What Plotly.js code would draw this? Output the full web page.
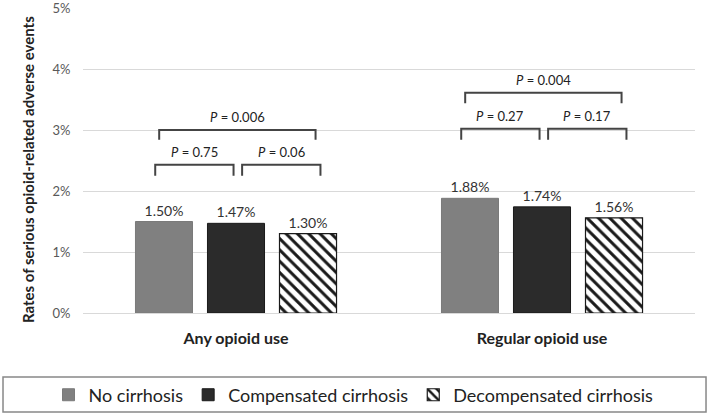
<!DOCTYPE html>
<html>
<head>
<meta charset="utf-8">
<script src="https://cdn.plot.ly/plotly-3.0.1.min.js"></script>
<style>html,body{margin:0;padding:0;background:#fff;}#chart{width:709px;height:416px;}</style>
</head>
<body>
<div id="chart"></div>
<script>
const categories = ["Any opioid use", "Regular opioid use"];
const seriesNames = ["No cirrhosis", "Compensated cirrhosis", "Decompensated cirrhosis"];
const noCirrhosis = [1.50, 1.88];
const compensated = [1.47, 1.74];
const decompensated = [1.30, 1.56];
const yTicks = [0, 1, 2, 3, 4, 5];
const yTickLabels = ["0%", "1%", "2%", "3%", "4%", "5%"];
// p-value comparisons: [category index, from series, to series, label]
const pComparisons = [
  [0, 0, 1, "0.75"], [0, 1, 2, "0.06"], [0, 0, 2, "0.006"],
  [1, 0, 1, "0.27"], [1, 1, 2, "0.17"], [1, 0, 2, "0.004"]
];

const FONT = "Lato, 'Open Sans', sans-serif";
const fmt = v => v.toFixed(2) + "%";

const traces = [
  {name: seriesNames[0], values: noCirrhosis, marker: {color: "#808080", line: {color: "#7a7a7a", width: 1}}},
  {name: seriesNames[1], values: compensated, marker: {color: "#2b2b2b", line: {color: "#1a1a1a", width: 1}}},
  {name: seriesNames[2], values: decompensated, marker: {color: "#ffffff", line: {color: "#1a1a1a", width: 1.2},
     pattern: {shape: "\\", fgcolor: "#1a1a1a", bgcolor: "#ffffff", size: 8, solidity: 0.38}}}
].map(t => ({
  type: "bar", name: t.name, x: categories, y: t.values,
  text: t.values.map(fmt), textposition: "outside", cliponaxis: false,
  textfont: {family: FONT, size: 14, color: "#333"},
  marker: t.marker, hoverinfo: "skip"
}));

// bracket geometry (layout only)
const slot = 0.235;
const pad = {small0: [-0.029, -0.008], small1: [0.02, 0.041], big: [-0.016, 0.025]};
const levels = {
  0: {small: [2.25, 2.43], big: [2.84, 3.0]},
  1: {small: [2.84, 3.02], big: [3.44, 3.61]}
};
const shapes = [];
const annotations = [];
pComparisons.forEach(([ci, a, b, label]) => {
  const isBig = (b - a) === 2;
  const lv = isBig ? levels[ci].big : levels[ci].small;
  const pd = isBig ? pad.big : (a === 0 ? pad.small0 : pad.small1);
  const x0 = ci + (a - 1) * slot + pd[0];
  const x1 = ci + (b - 1) * slot + pd[1];
  shapes.push({type: "path", xref: "x", yref: "y",
    path: `M ${x0} ${lv[0]} L ${x0} ${lv[1]} L ${x1} ${lv[1]} L ${x1} ${lv[0]}`,
    line: {color: "#444", width: 2}});
  annotations.push({xref: "x", yref: "y", x: (x0 + x1) / 2, y: lv[1] + 0.05, yanchor: "bottom",
    text: "<i>P</i> = " + label, showarrow: false, font: {family: FONT, size: 13, color: "#222"}});
});
// y axis title
annotations.push({xref: "paper", yref: "paper", x: -0.09, y: 0.472, xanchor: "center", yanchor: "middle",
  textangle: -90, showarrow: false, text: "<b>Rates of serious opioid-related adverse events</b>",
  font: {family: FONT, size: 15, color: "#222"}});
// legend border box
shapes.push({type: "rect", xref: "paper", yref: "paper", x0: -0.1307, x1: 1.018, y0: -0.21, y1: -0.3246,
  line: {color: "#888", width: 1.5}, fillcolor: "rgba(0,0,0,0)"});

const layout = {
  width: 709, height: 416,
  margin: {l: 83, r: 14, t: 8, b: 103, autoexpand: false},
  paper_bgcolor: "#fff", plot_bgcolor: "#fff",
  font: {family: FONT, color: "#333"},
  barmode: "group", bargap: 0.294, bargroupgap: 0.208,
  showlegend: true,
  legend: {orientation: "h", x: 0.442, xanchor: "center", y: -0.269, yanchor: "middle",
    font: {family: FONT, size: 18, color: "#222"}, itemclick: false, traceorder: "normal",
    bgcolor: "rgba(0,0,0,0)"},
  xaxis: {type: "category", tickfont: {family: FONT, size: 16, color: "#222", weight: "bold"},
    showline: false, ticks: "outside", ticklen: 11, tickcolor: "rgba(0,0,0,0)", showgrid: false},
  yaxis: {range: [0, 5], tickvals: yTicks, ticktext: yTickLabels,
    tickfont: {family: FONT, size: 13, color: "#595959"}, ticklabeloverflow: "allow",
    gridcolor: "#d9d9d9", gridwidth: 1, zeroline: true, zerolinecolor: "#d9d9d9",
    ticks: "outside", ticklen: 9, tickcolor: "rgba(0,0,0,0)", automargin: false},
  shapes: shapes, annotations: annotations
};

Plotly.newPlot("chart", traces, layout, {displayModeBar: false, staticPlot: true});
</script>
</body>
</html>
